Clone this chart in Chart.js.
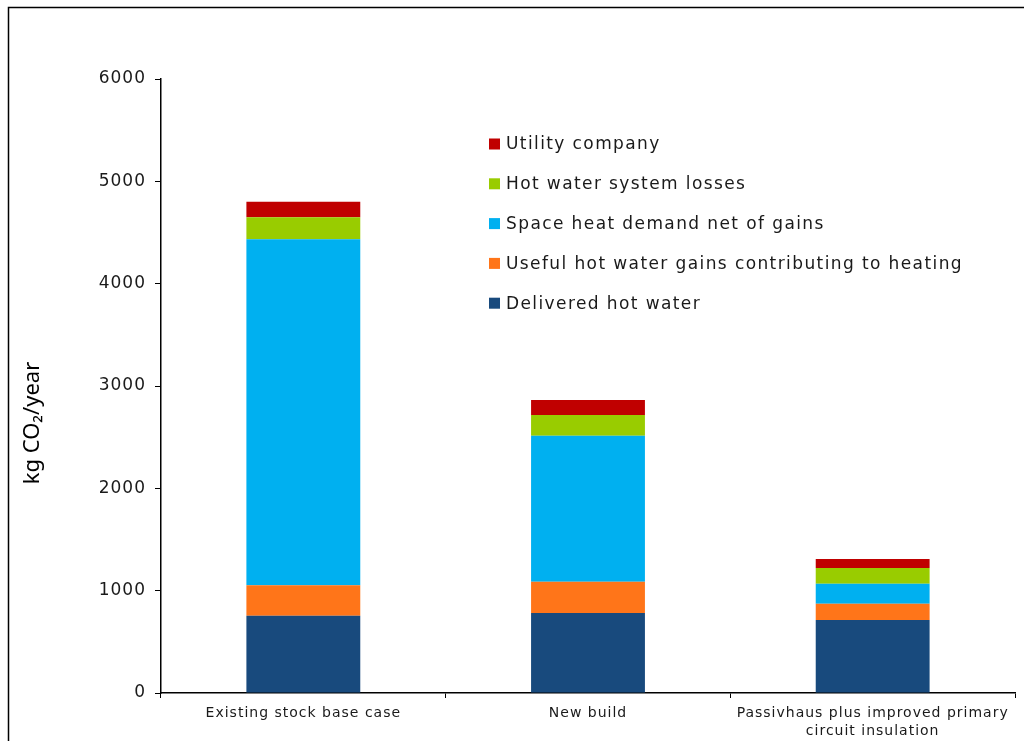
<!DOCTYPE html>
<html lang="en">

<head>
    <meta charset="UTF-8" />
    <title>kg CO2/year by scenario</title>
    <script src="https://cdn.jsdelivr.net/npm/chart.js@4.4.0/dist/chart.umd.min.js"></script>
    <style type="text/css">
        body {
            margin: 0;
            background: #fff;
        }

        .chartBox {
            width: 1024px;
            height: 741px;
        }
    </style>
</head>

<body>
    <div class="chartBox">
        <canvas id="myChart"></canvas>
    </div>

    <script>
        // values (kg CO2/year)
        const scenarios = [
            'Existing stock base case',
            'New build',
            ['Passivhaus plus improved primary', 'circuit insulation']
        ];
        const deliveredHotWater = [755, 782, 713];
        const usefulGains = [297, 306, 160];
        const spaceHeat = [3383, 1427, 195];
        const systemLosses = [215, 202, 154];
        const utilityCompany = [150, 146, 88];
        const yTicks = [0, 1000, 2000, 3000, 4000, 5000, 6000];
        const yTitle = 'kg CO\u2082/year';

        const ctx = document.getElementById('myChart').getContext('2d');

        // wide Verdana-like spacing for all chart text
        const spacing = {
            id: 'spacing',
            beforeLayout(chart) {
                chart.ctx.letterSpacing = '1px';
            },
            beforeDraw(chart) {
                chart.ctx.letterSpacing = '1px';
            }
        };

        // y title sits a bit below the middle of the axis in the original
        const yTitlePlugin = {
            id: 'yTitlePlugin',
            afterDraw(chart) {
                const c = chart.ctx;
                c.save();
                c.letterSpacing = '0px';
                c.font = '22px "Noto Sans"';
                c.fillStyle = '#000';
                c.textAlign = 'center';
                c.textBaseline = 'middle';
                c.translate(33, 423);
                c.rotate(-Math.PI / 2);
                c.fillText(yTitle, 0, 0);
                c.restore();
            }
        };

        // legend drawn inside the plot, top entry = top of the stack
        const insideLegend = {
            id: 'insideLegend',
            afterDraw(chart) {
                const c = chart.ctx;
                const sets = chart.data.datasets.slice().reverse();
                c.save();
                c.font = '17px "DejaVu Sans"';
                c.letterSpacing = '1.4px';
                c.textBaseline = 'middle';
                sets.forEach((ds, i) => {
                    const y = 144 + i * 39.8;
                    c.fillStyle = ds.backgroundColor;
                    c.fillRect(489, y - 5.5, 11, 11);
                    c.fillStyle = '#1a1a1a';
                    c.fillText(ds.label, 506, y + 1);
                });
                c.restore();
            }
        };

        const frame = {
            id: 'frame',
            afterDraw(chart) {
                const c = chart.ctx;
                c.save();
                c.strokeStyle = '#000';
                c.lineWidth = 1.5;
                c.strokeRect(8.5, 7.5, 1100, 800);
                c.restore();
            }
        };

        const myChart = new Chart(ctx, {
            type: 'bar',
            data: {
                labels: scenarios,
                datasets: [{
                    label: 'Delivered hot water',
                    data: deliveredHotWater,
                    backgroundColor: '#184A7D'
                }, {
                    label: 'Useful hot water gains contributing to heating',
                    data: usefulGains,
                    backgroundColor: '#FF7519'
                }, {
                    label: 'Space heat demand net of gains',
                    data: spaceHeat,
                    backgroundColor: '#00B0F0'
                }, {
                    label: 'Hot water system losses',
                    data: systemLosses,
                    backgroundColor: '#99CC00'
                }, {
                    label: 'Utility company',
                    data: utilityCompany,
                    backgroundColor: '#C00000'
                }]
            },
            options: {
                responsive: true,
                maintainAspectRatio: false,
                animation: false,
                categoryPercentage: 1,
                barPercentage: 0.4,
                layout: {
                    padding: { top: 79, right: 9, bottom: 0, left: 0 }
                },
                plugins: {
                    legend: { display: false },
                    tooltip: { enabled: false }
                },
                scales: {
                    x: {
                        stacked: true,
                        border: { color: '#000', width: 1.5 },
                        grid: {
                            drawOnChartArea: false,
                            color: '#000',
                            tickLength: 5
                        },
                        ticks: {
                            color: '#1a1a1a',
                            font: { family: 'DejaVu Sans', size: 14, lineHeight: 1.3 },
                            padding: 6,
                            maxRotation: 0
                        },
                        afterFit(scale) {
                            scale.height = 48;
                        }
                    },
                    y: {
                        stacked: true,
                        min: 0,
                        max: 6000,
                        afterBuildTicks(scale) {
                            scale.ticks = yTicks.map(v => ({ value: v }));
                        },
                        border: { color: '#000', width: 1.5 },
                        grid: {
                            drawOnChartArea: false,
                            color: '#000',
                            tickLength: 6
                        },
                        ticks: {
                            color: '#1a1a1a',
                            font: { family: 'DejaVu Sans', size: 17 },
                            padding: 9,
                            callback: v => String(v)
                        },
                        afterFit(scale) {
                            scale.width = 161;
                        }
                    }
                }
            },
            plugins: [spacing, yTitlePlugin, insideLegend, frame]
        });
    </script>
</body>

</html>
